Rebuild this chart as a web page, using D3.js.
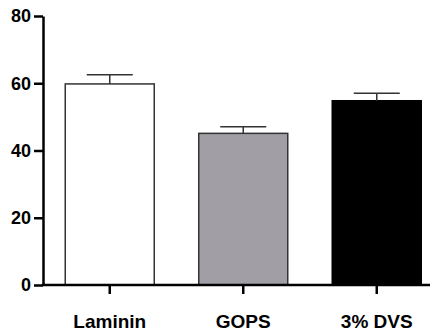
<!DOCTYPE html>
<html>
<head>
<meta charset="utf-8">
<script src="https://cdn.jsdelivr.net/npm/d3@7"></script>
<style>
  body { margin: 0; background: #fff; }
  svg { display: block; }
  svg text { font-family: "Liberation Sans", Arial, sans-serif; font-weight: bold; fill: #000; }
</style>
</head>
<body>
<div id="chart"></div>
<script>
const categories = ["Laminin", "GOPS", "3% DVS"];
const means = [59.8, 45.1, 54.8];
const errors = [2.7, 2.0, 2.2];
const fills = ["#ffffff", "#a19fa5", "#000000"];
const yTicks = [0, 20, 40, 60, 80];

const width = 434, height = 331;
const margin = {top: 16, right: 4, bottom: 46, left: 43};

const svg = d3.select("#chart").append("svg")
    .attr("width", width)
    .attr("height", height);

const y = d3.scaleLinear().domain([0, 80]).range([285, 16]);
const x = d3.scaleBand()
    .domain(categories)
    .range([margin.left, margin.left + 400.5])
    .paddingInner(1 / 3)
    .paddingOuter(1 / 6);

// bars
svg.selectAll(".bar")
  .data(categories)
  .enter().append("rect")
    .attr("class", "bar")
    .attr("x", d => x(d))
    .attr("width", x.bandwidth())
    .attr("y", (d, i) => y(means[i]))
    .attr("height", (d, i) => y(0) - y(means[i]))
    .attr("fill", (d, i) => fills[i])
    .attr("stroke", (d, i) => i == 2 ? "#000" : "#333")
    .attr("stroke-width", 1.5);

// error bars (upper only)
let err = svg.selectAll(".err")
  .data(categories)
  .enter().append("g")
    .attr("class", "err")
    .attr("stroke", "#333")
    .attr("stroke-width", 1.5);
err.append("line")
    .attr("x1", d => x(d) + x.bandwidth() / 2)
    .attr("x2", d => x(d) + x.bandwidth() / 2)
    .attr("y1", (d, i) => y(means[i]))
    .attr("y2", (d, i) => y(means[i] + errors[i]));
err.append("line")
    .attr("x1", d => x(d) + x.bandwidth() / 2 - 23)
    .attr("x2", d => x(d) + x.bandwidth() / 2 + 23)
    .attr("y1", (d, i) => y(means[i] + errors[i]))
    .attr("y2", (d, i) => y(means[i] + errors[i]));

// y axis
let yAxis = svg.append("g")
    .attr("transform", `translate(${margin.left},0)`)
    .attr("font-family", null)
    .attr("font-size", 18)
    .call(d3.axisLeft(y).tickValues(yTicks).tickSize(9).tickSizeOuter(0).tickPadding(3));
yAxis.attr("font-family", null).attr("font-size", 18);
yAxis.select(".domain").attr("stroke", "#000").attr("stroke-width", 2.5);
yAxis.selectAll(".tick line").attr("stroke", "#000").attr("stroke-width", 2.5);

// x axis
let xAxis = svg.append("g")
    .attr("transform", `translate(0,${y(0)})`)
    .call(d3.axisBottom(x).tickSize(9).tickSizeOuter(0).tickPadding(20.5));
xAxis.attr("font-family", null).attr("font-size", 19);
xAxis.select(".domain").remove();
xAxis.append("line")
    .attr("x1", margin.left - 1.25)
    .attr("x2", 430)
    .attr("stroke", "#000")
    .attr("stroke-width", 2.5);
xAxis.selectAll(".tick line").attr("stroke", "#000").attr("stroke-width", 2.5);
</script>
</body>
</html>
